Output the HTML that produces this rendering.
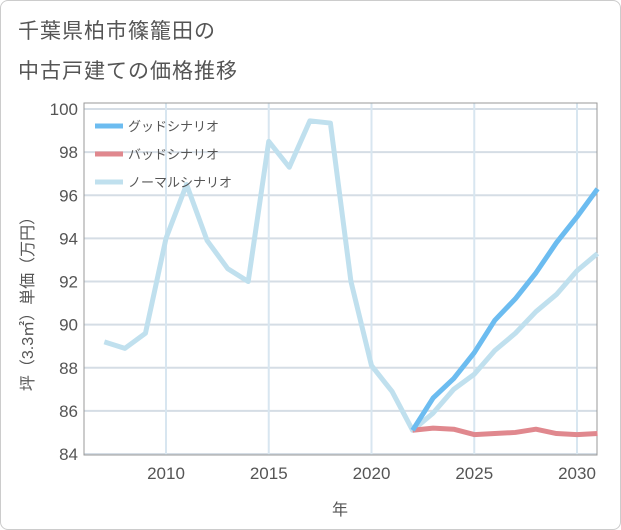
<!DOCTYPE html>
<html><head><meta charset="utf-8"><style>
body{margin:0;background:#fff;font-family:"Liberation Sans","Noto Sans CJK JP",sans-serif;}
#wrap{position:relative;width:619px;height:528px;border:1px solid #ccc;border-radius:8px;overflow:hidden;}
.t{position:absolute;left:17px;font-size:21px;color:#555;letter-spacing:1px;}
</style></head><body>
<div id="wrap">
<div class="t" style="top:14px">千葉県柏市篠籠田の</div>
<div class="t" style="top:54px">中古戸建ての価格推移</div>
<svg id="c" width="621" height="530" style="position:absolute;left:-1px;top:-1px"></svg>
</div>
<script>
const years=[2007,2008,2009,2010,2011,2012,2013,2014,2015,2016,2017,2018,2019,2020,2021,2022,2023,2024,2025,2026,2027,2028,2029,2030,2031];
const normal=[89.2,88.9,89.6,94.0,96.5,93.9,92.6,92.0,98.5,97.3,99.45,99.35,92.0,88.1,86.9,85.1,85.9,87.0,87.7,88.8,89.6,90.6,91.4,92.5,93.3];
const futureYears=[2022,2023,2024,2025,2026,2027,2028,2029,2030,2031];
const good=[85.1,86.6,87.5,88.7,90.2,91.2,92.4,93.8,95.0,96.3];
const bad=[85.1,85.2,85.15,84.9,84.95,85.0,85.15,84.95,84.9,84.95];
const yTicks=[84,86,88,90,92,94,96,98,100];
const xTicks=[2010,2015,2020,2025,2030];
const L=84,R=597,T=103,B=455;
const x=v=>166+(v-2010)*20.55;
const y=v=>454-(v-84)*21.56;
const svg=document.getElementById('c');const NS='http://www.w3.org/2000/svg';
function mk(tag,a,txt){const e=document.createElementNS(NS,tag);for(const k in a)e.setAttribute(k,a[k]);if(txt!=null)e.textContent=txt;svg.appendChild(e);return e;}
yTicks.forEach(v=>{const l=mk('line',{x1:L,x2:R,y1:y(v),y2:y(v),stroke:'#d5dde5','stroke-width':2});


const t=mk('text',{x:78,y:y(v)+6,'text-anchor':'end','font-size':17,fill:'#555'},v);

});
xTicks.forEach(v=>{const l=mk('line',{x1:x(v),x2:x(v),y1:T,y2:B,stroke:'#d8e6f0','stroke-width':2});


const t=mk('text',{x:x(v),y:479,'text-anchor':'middle','font-size':17,fill:'#555'},v);

});
const fr=mk('rect',{x:L,y:T,width:R-L,height:B-T,fill:'none',stroke:'#999','stroke-width':1});


function line(xs,vs,col,name){const p=mk('polyline',{points:xs.map((a,i)=>x(a)+','+y(vs[i])).join(' '),fill:'none',stroke:col,'stroke-width':5,'stroke-linejoin':'round'});

}
line(years,normal,'#c0e0ee','normal-scenario-line');
line(futureYears,bad,'#e0888e','bad-scenario-line');
line(futureYears,good,'#6cbcf0','good-scenario-line');
const leg=[['グッドシナリオ','#6cbcf0'],['バッドシナリオ','#e0888e'],['ノーマルシナリオ','#c0e0ee']];
leg.forEach((d,i)=>{const yy=126+i*28;
const s=mk('line',{x1:95,x2:123,y1:yy,y2:yy,stroke:d[1],'stroke-width':5});


const t=mk('text',{x:128,y:yy+5,'font-size':13,fill:'#555'},d[0]);

});
const xt=mk('text',{x:340,y:515,'text-anchor':'middle','font-size':16,fill:'#555'},'年');


const yt=mk('text',{x:0,y:0,'text-anchor':'middle','font-size':16,fill:'#555',transform:'translate(33,300) rotate(-90)'},'坪（3.3㎡）単価（万円）');


</script>
</body></html>
